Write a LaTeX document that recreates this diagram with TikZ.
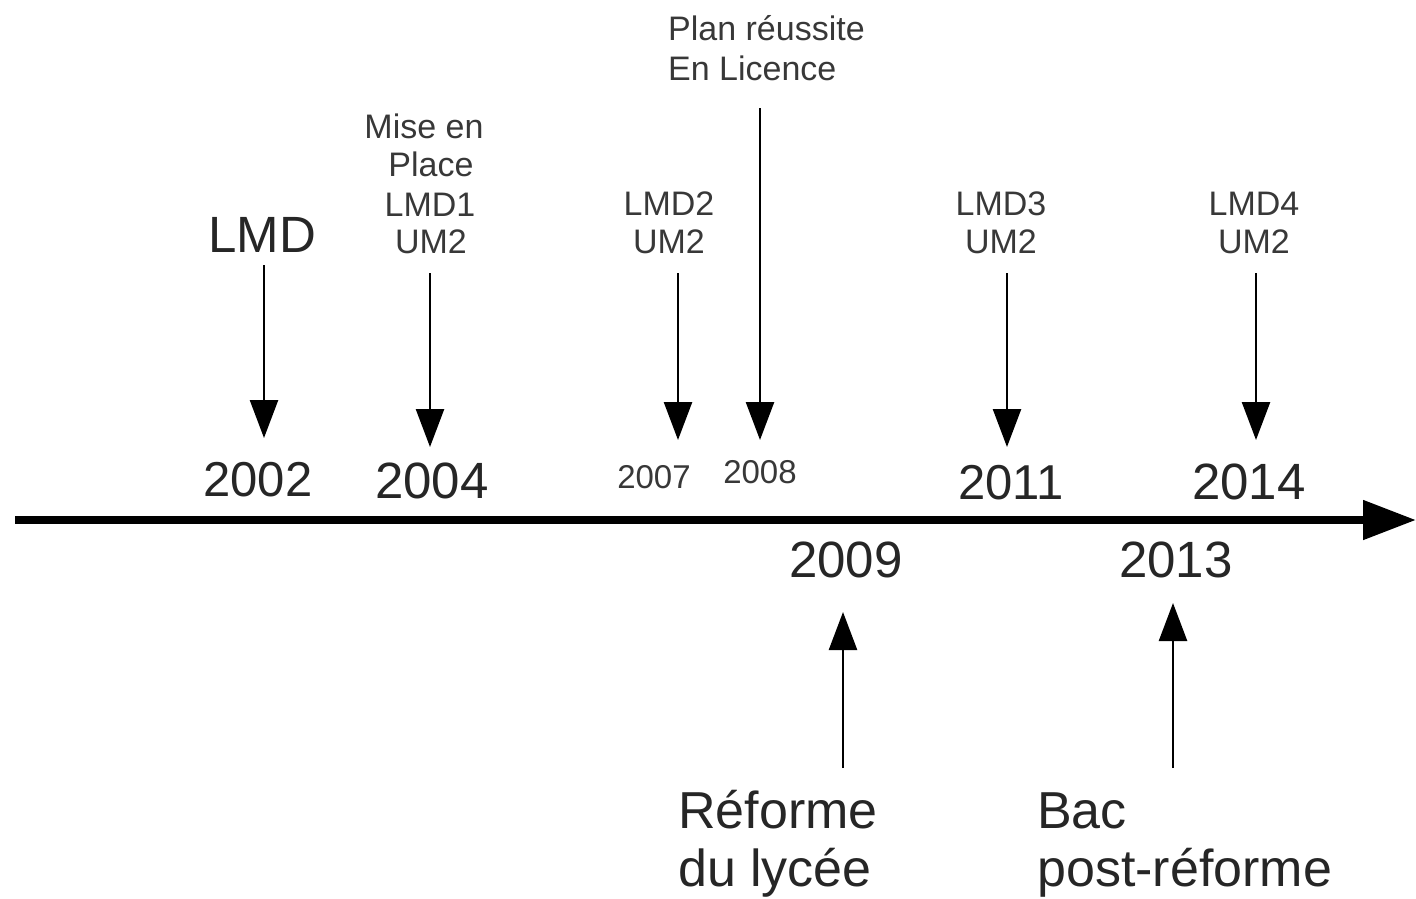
\documentclass[tikz,border=0pt]{standalone}
\usepackage{fontspec}
\setmainfont{Liberation Sans}
\usetikzlibrary{arrows.meta}
\definecolor{txt}{gray}{0.15}
\definecolor{smalltxt}{gray}{0.22}
\tikzset{
  big/.style={inner sep=0pt, anchor=base, text=txt, font=\fontsize{50}{58}\selectfont},
  small/.style={inner sep=0pt, anchor=base, text=smalltxt, font=\fontsize{34}{39}\selectfont},
  mid/.style={inner sep=0pt, anchor=base, text=smalltxt, font=\fontsize{33}{39}\selectfont},
  bottomlbl/.style={inner sep=0pt, anchor=base west, text=txt, font=\fontsize{52}{58}\selectfont},
  evarrow/.style={line width=2.5pt, -{Triangle[length=38pt,width=28pt]}},
  axisarrow/.style={line width=8pt, -{Triangle[length=53pt,width=38pt]}}
}
\begin{document}
\begin{tikzpicture}[x=1pt,y=-1pt]
\useasboundingbox (0,0) rectangle (1416,898);
% axis
\coordinate (axs) at (15,520);
\coordinate (axe) at (1416,520);
\draw[axisarrow] (axs) -- (axe);

% top labels
\node[big, font=\fontsize{51}{58}\selectfont] (lmd) at (262,252) {LMD};
\node[small] (m1) at (424,138) {Mise en};
\node[small] (m2) at (431,176) {Place};
\node[small] (m3) at (430,216) {LMD1};
\node[small] (m4) at (431,253) {UM2};
\node[small, anchor=base west] (p1) at (668,40) {Plan réussite};
\node[small, anchor=base west] (p2) at (668,80) {En Licence};
\node[small] (l21) at (669,215) {LMD2};
\node[small] (l22) at (669,253) {UM2};
\node[small] (l31) at (1001,215) {LMD3};
\node[small] (l32) at (1001,253) {UM2};
\node[small] (l41) at (1254,215) {LMD4};
\node[small] (l42) at (1254,253) {UM2};

% years above axis
\node[big, font=\fontsize{49}{58}\selectfont] (y2002) at (258,496) {2002};
\node[big, font=\fontsize{51}{58}\selectfont] (y2004) at (432,498) {2004};
\node[mid] (y2007) at (654,488) {2007};
\node[mid] (y2008) at (760,483) {2008};
\node[big, font=\fontsize{49}{58}\selectfont] (y2011) at (1011,499) {2011};
\node[big, font=\fontsize{51}{58}\selectfont] (y2014) at (1249,499) {2014};

% years below axis
\node[big, font=\fontsize{51}{58}\selectfont] (y2009) at (846,577) {2009};
\node[big, font=\fontsize{51}{58}\selectfont] (y2013) at (1176,577) {2013};

% bottom labels
\node[bottomlbl] (r1) at (678,828) {Réforme};
\node[bottomlbl] (r2) at (678,886) {du lycée};
\node[bottomlbl] (b1) at (1037,828) {Bac};
\node[bottomlbl] (b2) at (1037,886) {post-réforme};

% arrow end points
\coordinate (a02s) at (264,265);  \coordinate (a02e) at (264,438);
\coordinate (a04s) at (430,273);  \coordinate (a04e) at (430,447);
\coordinate (a07s) at (678,273);  \coordinate (a07e) at (678,440);
\coordinate (a08s) at (760,108);  \coordinate (a08e) at (760,440);
\coordinate (a11s) at (1007,273); \coordinate (a11e) at (1007,447);
\coordinate (a14s) at (1256,273); \coordinate (a14e) at (1256,440);
\coordinate (a09s) at (843,768);  \coordinate (a09e) at (843,612);
\coordinate (a13s) at (1173,768); \coordinate (a13e) at (1173,603);

\draw[evarrow] (a02s) -- (a02e);
\draw[evarrow] (a04s) -- (a04e);
\draw[evarrow] (a07s) -- (a07e);
\draw[evarrow] (a08s) -- (a08e);
\draw[evarrow] (a11s) -- (a11e);
\draw[evarrow] (a14s) -- (a14e);
\draw[evarrow] (a09s) -- (a09e);
\draw[evarrow] (a13s) -- (a13e);
\end{tikzpicture}
\end{document}
